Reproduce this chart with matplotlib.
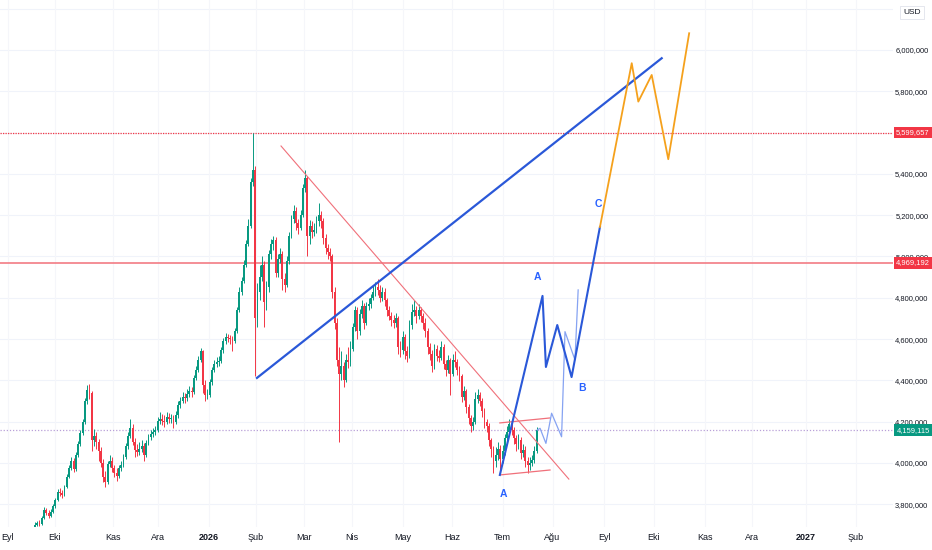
import matplotlib
matplotlib.use("Agg")
import matplotlib.pyplot as plt
import matplotlib.transforms as mtransforms

plt.rcParams['font.family'] = ['Liberation Sans', 'DejaVu Sans']
axis_size = 5.4

# daily closes, highs, lows (in thousands, label shows x1000)
closes = [3700, 3710, 3705, 3735, 3770, 3760, 3745, 3765, 3790, 3820,
          3860, 3855, 3845, 3885, 3930, 3975, 4010, 3970, 4040, 4090,
          4145, 4200, 4300, 4355, 4340, 4110, 4130, 4100, 4060, 4000,
          3930, 3910, 3995, 4010, 3975, 3950, 3935, 3975, 3990, 4030,
          4080, 4130, 4170, 4100, 4065, 4055, 4070, 4080, 4040, 4095,
          4125, 4140, 4150, 4160, 4205, 4215, 4205, 4200, 4225, 4215,
          4215, 4200, 4230, 4280, 4300, 4320, 4315, 4335, 4350, 4345,
          4410, 4450, 4500, 4540, 4380, 4330, 4330, 4390, 4450, 4480,
          4490, 4495, 4545, 4590, 4610, 4605, 4600, 4590, 4640, 4740,
          4830, 4880, 4960, 5060, 5150, 5360, 5420, 4700, 4830, 4900,
          4960, 4780, 4850, 5010, 5060, 5080, 4920, 4990, 5010, 4890,
          4860, 4980, 5100, 5180, 5220, 5160, 5140, 5200, 5330, 5380,
          5100, 5150, 5120, 5130, 5170, 5200, 5170, 5090, 5040, 5020,
          5000, 4830, 4680, 4500, 4430, 4470, 4400, 4500, 4490, 4550,
          4660, 4740, 4640, 4720, 4760, 4680, 4760, 4770, 4800, 4830,
          4850, 4840, 4800, 4830, 4790, 4740, 4710, 4690, 4680, 4700,
          4560, 4545, 4610, 4540, 4520, 4670, 4730, 4740, 4710, 4740,
          4710, 4680, 4640, 4560, 4530, 4470, 4550, 4520, 4510, 4560,
          4480, 4450, 4500, 4430, 4500, 4490, 4450, 4420, 4320, 4350,
          4270, 4220, 4180, 4200, 4310, 4330, 4300, 4250, 4200, 4180,
          4110, 4070, 4010, 4040, 4070, 4020, 4060, 4120, 4150, 4190,
          4160, 4120, 4090, 4110, 4050, 4065, 4010, 3990, 4000, 4015,
          4060, 4159.115]
highs = [3712, 3720, 3722, 3745, 3785, 3782, 3770, 3778, 3800, 3832,
         3872, 3878, 3870, 3895, 3945, 3990, 4030, 4025, 4055, 4105,
         4160, 4215, 4315, 4380, 4382, 4350, 4165, 4150, 4115, 4075,
         4020, 3960, 4010, 4040, 4030, 3990, 3975, 3990, 4010, 4045,
         4095, 4150, 4215, 4190, 4120, 4090, 4100, 4110, 4095, 4110,
         4140, 4160, 4170, 4180, 4225, 4245, 4235, 4230, 4245, 4240,
         4235, 4230, 4250, 4300, 4320, 4345, 4340, 4360, 4375, 4370,
         4425, 4470, 4520, 4555, 4545, 4400, 4360, 4405, 4465, 4500,
         4515, 4520, 4560, 4605, 4630, 4625, 4620, 4615, 4655, 4755,
         4850, 4900, 4985, 5080, 5180, 5380, 5600, 5440, 4870, 4960,
         5000, 4980, 4880, 5030, 5085, 5100, 5095, 5010, 5040, 5025,
         4920, 5000, 5120, 5200, 5250, 5240, 5180, 5225, 5350, 5420,
         5390, 5175, 5170, 5160, 5195, 5260, 5220, 5185, 5110, 5060,
         5040, 5010, 4850, 4700, 4560, 4540, 4490, 4530, 4560, 4590,
         4680, 4760, 4755, 4745, 4790, 4775, 4780, 4800, 4820, 4860,
         4875, 4890, 4860, 4850, 4845, 4800, 4760, 4730, 4715, 4725,
         4710, 4590, 4640, 4625, 4565, 4690, 4770, 4790, 4760, 4770,
         4755, 4725, 4700, 4655, 4580, 4545, 4575, 4570, 4545, 4590,
         4575, 4500, 4525, 4510, 4530, 4540, 4505, 4470, 4430, 4375,
         4360, 4285, 4230, 4225, 4345, 4360, 4345, 4315, 4265, 4215,
         4195, 4120, 4080, 4075, 4100, 4085, 4085, 4140, 4180, 4215,
         4200, 4175, 4135, 4140, 4125, 4090, 4080, 4030, 4030, 4040,
         4080, 4175]
lows = [3685, 3695, 3694, 3700, 3728, 3748, 3732, 3740, 3758, 3784,
        3815, 3840, 3830, 3838, 3878, 3925, 3965, 3955, 3962, 4030,
        4080, 4135, 4190, 4285, 4310, 4060, 4080, 4070, 4010, 3980,
        3910, 3885, 3900, 3980, 3955, 3930, 3915, 3925, 3960, 3980,
        4020, 4070, 4120, 4085, 4030, 4035, 4040, 4055, 4010, 4030,
        4085, 4110, 4125, 4135, 4150, 4190, 4185, 4175, 4190, 4195,
        4195, 4170, 4190, 4220, 4265, 4290, 4290, 4300, 4320, 4320,
        4335, 4400, 4440, 4490, 4340, 4300, 4310, 4320, 4380, 4440,
        4465, 4470, 4485, 4535, 4575, 4585, 4575, 4540, 4580, 4630,
        4730, 4815, 4870, 4950, 5050, 5140, 5340, 4420, 4660, 4790,
        4880, 4660, 4740, 4830, 4990, 5030, 4900, 4900, 4970, 4840,
        4830, 4850, 4965, 5090, 5160, 5130, 5110, 5130, 5190, 5310,
        5000, 5060, 5090, 5100, 5115, 5150, 5140, 5060, 5010, 4990,
        4980, 4800, 4650, 4470, 4100, 4400, 4370, 4390, 4460, 4470,
        4540, 4640, 4600, 4620, 4700, 4650, 4670, 4740, 4750, 4790,
        4810, 4815, 4780, 4785, 4760, 4710, 4690, 4665, 4655, 4660,
        4530, 4515, 4530, 4505, 4490, 4510, 4650, 4710, 4680, 4695,
        4685, 4650, 4610, 4530, 4500, 4440, 4455, 4495, 4490, 4500,
        4455, 4420, 4435, 4330, 4420, 4465, 4425, 4395, 4295, 4305,
        4240, 4190, 4150, 4160, 4190, 4290, 4275, 4225, 4170, 4150,
        4080, 4030, 3950, 3980, 4015, 3965, 4000, 4040, 4100, 4130,
        4135, 4090, 4060, 4070, 4020, 4030, 3980, 3950, 3965, 3985,
        4000, 4050]
opens = [3690] + closes[:-1]

# drawings: (bar index, price)
trend_up = [(97.8, 4412), (276.1, 5960)]
trend_down = [(108.4, 5535), (235.2, 3922)]
chan_top = [(204.8, 4194), (226.9, 4218)]
chan_bot = [(204.8, 3942), (226.9, 3966)]
wave_main = [(204.8, 3942), (223.6, 4809), (225.1, 4465), (230.1, 4668),
             (236.4, 4416), (248.9, 5143)]
wave_alt = [(221.3, 4160), (222.5, 4168), (225.1, 4095), (227.6, 4241),
            (232.0, 4127), (233.5, 4636), (237.9, 4499), (239.3, 4838)]
wave_next = [(248.9, 5143), (262.9, 5936), (265.8, 5750), (271.7, 5879),
             (279.0, 5471), (288.2, 6081)]
wave_labels = [("A", 221.6, 4901), ("B", 241.0, 4363), ("C", 248.0, 5254), ("A", 206.6, 3850)]

level_ath = 5599.657
level_mid = 4969.192
last_price = 4159.115

month_names = ["Eyl", "Eki", "Kas", "Ara", "2026", "Şub", "Mar", "Nis", "May", "Haz",
               "Tem", "Ağu", "Eyl", "Eki", "Kas", "Ara", "2027", "Şub"]
month_pos = [-12, 8.8, 34.4, 54.2, 76.7, 97.4, 118.5, 139.6, 162, 183.7,
             206, 228, 250.7, 272.7, 295, 316, 339.6, 361.7]

UP, DOWN = "#089981", "#F23645"
BLUE = "#2a58d8"

fig = plt.figure(figsize=(9.32, 5.5), dpi=100)
ax = fig.add_axes([0, 23 / 550, 893 / 932, 527 / 550])

ax.set_xlim(-15.4, 378)
ax.set_ylim(3690, 6242)

# grid
for y in range(3800, 6201, 200):
    ax.axhline(y, color="#f0f3fa", lw=0.8, zorder=0)
for p in month_pos:
    ax.axvline(p, color="#f5f6fa", lw=0.8, zorder=0)

# candles
for i, (o, h, l, c) in enumerate(zip(opens, highs, lows, closes)):
    col = UP if c >= o else DOWN
    ax.vlines(i, l, h, color=col, lw=0.7, zorder=2)
    ax.bar(i, max(abs(c - o), 4), bottom=min(o, c), width=0.8, color=col,
           linewidth=0, zorder=3)

# horizontal levels
ax.axhline(level_ath, color=DOWN, lw=0.9, ls=(0, (1, 1)), zorder=1)
ax.axhline(level_mid, color="#f27c84", lw=1.2, zorder=1)
ax.axhline(last_price, color="#b9a0d8", lw=0.9, ls=(0, (1, 1.5)), zorder=1)

def path(pts, **kw):
    ax.plot([p[0] for p in pts], [p[1] for p in pts], **kw)

path(trend_down, color="#f0707a", lw=0.8, zorder=4)
path(chan_top, color="#f0707a", lw=0.9, zorder=4)
path(chan_bot, color="#f0707a", lw=0.9, zorder=4)
path(trend_up, color=BLUE, lw=1.6, zorder=5)
path(wave_alt, color="#86a3f2", lw=0.9, zorder=5)
path(wave_main, color=BLUE, lw=1.5, zorder=6)
path(wave_next, color="#f5a11c", lw=1.3, zorder=6)
for t, x, y in wave_labels:
    ax.text(x, y, t, color="#2962FF", fontsize=7.5, fontweight="bold",
            ha="center", va="center", zorder=7)

# axes styling
for s in ax.spines.values():
    s.set_visible(False)
ax.yaxis.tick_right()
ax.set_yticks(range(3800, 6001, 200))
ax.set_yticklabels([f"{v * 1000:,}" for v in range(3800, 6001, 200)], fontsize=axis_size)
ax.tick_params(axis="y", length=0, pad=25.5, labelcolor="#131722")
for lbl in ax.get_yticklabels():
    lbl.set_horizontalalignment("right")
ax.set_xticks(month_pos)
ax.set_xticklabels(month_names)
ax.tick_params(axis="x", length=0, pad=4, labelsize=6.5, labelcolor="#131722")
for lbl in ax.get_xticklabels():
    if lbl.get_text().isdigit():
        lbl.set_fontweight("bold")

trans = mtransforms.blended_transform_factory(fig.transFigure, ax.transData)
for val, col in [(level_ath, DOWN), (level_mid, DOWN), (last_price, UP)]:
    ax.text(0.9975, val, f"{val * 1000:,.0f}", transform=trans, color="white",
            fontsize=axis_size, va="center", ha="right", zorder=10,
            bbox=dict(boxstyle="square,pad=0.3", fc=col, ec="none"))

fig.text(0.9695, 0.977, "USD", fontsize=6, color="#131722", ha="left", va="center",
         bbox=dict(boxstyle="square,pad=0.4", fc="white", ec="#e0e3eb", lw=0.6))

fig.savefig("out.png", dpi=100)
